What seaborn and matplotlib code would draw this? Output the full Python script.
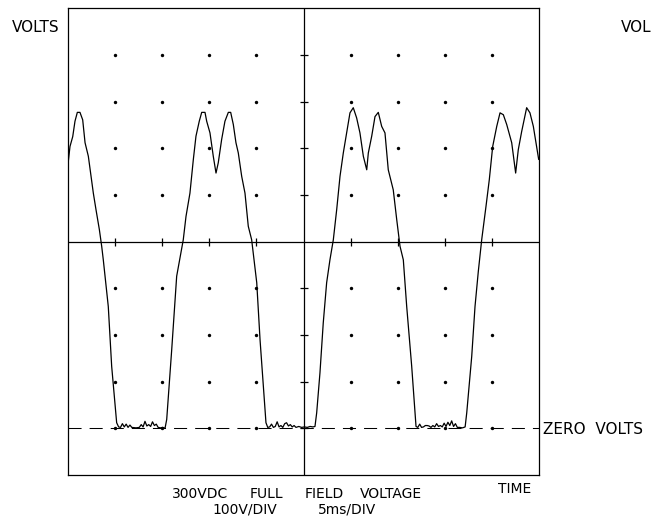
import numpy as np
import pandas as pd
import matplotlib
matplotlib.use("Agg")
import matplotlib.pyplot as plt
import seaborn as sns

# trace: time in ms, voltage in V
time_ms = [
    0.00, 0.18, 0.47, 0.71, 0.96, 1.24, 1.53, 1.78, 2.13, 2.66, 2.94, 3.30, 3.55, 3.72, 4.25, 4.61,
    5.14, 5.35, 5.55, 5.75, 5.95, 6.15, 6.35, 6.55, 6.75, 7.20, 7.55, 7.75, 7.95, 8.15, 8.35, 8.55,
    8.75, 8.95, 9.15, 9.35, 9.55, 9.80, 10.05, 10.28,
    10.46, 10.99, 11.52, 12.22, 12.51, 12.93, 13.29, 13.57, 13.92, 14.18, 14.53, 14.71, 15.06, 15.41,
    15.70, 15.94, 16.30, 16.65, 17.01, 17.26, 17.54, 17.82, 18.07, 18.43, 18.78, 19.13, 19.49, 20.03,
    20.38,
    21.01, 21.20, 21.40, 21.60, 21.80, 22.00, 22.20, 22.40, 22.60, 22.80, 23.00, 23.20, 23.40, 23.60,
    23.80, 24.00, 24.20, 24.50, 24.80, 25.10, 25.40, 25.70, 26.00, 26.22,
    26.40, 26.75, 27.10, 27.46, 27.81, 28.17, 28.53, 28.88, 29.23, 29.59, 29.94, 30.29, 30.65, 31.00,
    31.36, 31.72, 31.89, 32.25, 32.60, 32.95, 33.31, 33.66, 34.01, 34.54, 34.91, 35.26, 35.61, 35.97,
    36.50,
    36.96, 37.15, 37.35, 37.55, 37.75, 37.95, 38.15, 38.35, 38.55, 38.75, 38.95, 39.15, 39.35, 39.55,
    39.75, 39.95, 40.15, 40.35, 40.55, 40.75, 40.95, 41.15, 41.35, 41.60, 41.90, 42.18,
    42.35, 42.88, 43.23, 43.58, 43.94, 44.40, 44.75, 45.11, 45.54, 45.89, 46.24, 46.60, 47.13, 47.55,
    47.83, 48.19, 48.72, 49.07, 49.43, 50.00,
]
volts = [
    572, 604, 625, 658, 677, 677, 661, 612, 583, 504, 469, 426, 390, 361, 261, 133,
    12, 3, 2, 10, 3, 9, 2, 7, 2, 1, 2, 8, 3, 15, 5, 8,
    4, 14, 6, 9, 2, 1, 2, 0,
    19, 168, 326, 404, 454, 504, 576, 626, 658, 677, 677, 658, 633, 583,
    547, 569, 619, 658, 677, 677, 651, 612, 590, 540, 504, 433, 404, 312,
    190,
    12, 2, 3, 9, 2, 4, 14, 3, 6, 2, 10, 12, 5, 8,
    3, 6, 2, 4, 2, 3, 2, 4, 3, 4,
    33, 119, 226, 312, 361, 404, 469, 540, 590, 633, 676, 687, 665, 633,
    583, 554, 590, 626, 668, 677, 647, 633, 554, 511, 447, 390, 361, 261,
    133,
    4, 2, 9, 2, 3, 6, 6, 5, 2, 6, 3, 10, 4, 6,
    3, 11, 4, 13, 6, 16, 4, 10, 2, 2, 1, 3,
    33, 154, 261, 336, 404, 476, 533, 604, 647, 676, 672, 651, 612, 547,
    597, 636, 687, 676, 647, 576,
]

# graticule: 5 ms/div, 100 V/div
div_ms = [5, 10, 15, 20, 30, 35, 40, 45]
div_v = [0, 100, 200, 300, 500, 600, 700, 800]
center_ms = 25
center_v = 400

title_words = ["300VDC", "FULL", "FIELD", "VOLTAGE"]
scale_words = ["100V/DIV", "5ms/DIV"]

trace = pd.DataFrame({"t": time_ms, "v": volts})

sns.set_style("white")
plt.rcParams["font.family"] = ["DejaVu Sans"]
plt.rcParams["lines.scale_dashes"] = False

W, H = 653, 531
fig = plt.figure(figsize=(W / 100, H / 100), dpi=100)
ax = fig.add_axes([68.3 / W, 1 - 475 / H, 470.4 / W, 466.7 / H])
ax.set_xlim(0, 50)
ax.set_ylim(-100, 900)

# zero volts reference
ax.axhline(0, color="black", lw=0.75, dashes=(9.4, 5.8))

# center cross with division ticks
ax.axvline(center_ms, color="black", lw=0.9)
ax.axhline(center_v, color="black", lw=0.9)
ax.plot(div_ms, [center_v] * len(div_ms), ls="none", marker="|", ms=6, mew=0.9, color="black")
ax.plot([center_ms] * len(div_v), div_v, ls="none", marker="_", ms=6, mew=0.9, color="black")

# dots
gx, gy = np.meshgrid(div_ms, div_v)
sns.scatterplot(x=gx.ravel(), y=gy.ravel(), s=6, color="black", linewidth=0, ax=ax)

sns.lineplot(data=trace, x="t", y="v", color="black", lw=0.9, sort=False, estimator=None, ax=ax)

ax.set_xticks([])
ax.set_yticks([])
ax.set_xlabel("")
ax.set_ylabel("")
for sp in ax.spines.values():
    sp.set_visible(True)
    sp.set_color("black")
    sp.set_linewidth(0.9)

def ftext(px, py, s, ha="left", size=10):
    fig.text(px / W, 1 - py / H, s, ha=ha, va="baseline", fontsize=size, color="black")

ftext(12.3, 31.7, "VOLTS", size=11)
ftext(620.7, 31.7, "VOL", size=11)
ftext(542.7, 434, "ZERO  VOLTS", size=11)
ftext(531.7, 492.7, "TIME", ha="right", size=10)
for x, w in zip([171.7, 250, 305, 360], title_words):
    ftext(x, 498.3, w, size=10)
for x, w in zip([212.7, 318.3], scale_words):
    ftext(x, 513.3, w, size=10)

fig.savefig("out.png", dpi=100)
